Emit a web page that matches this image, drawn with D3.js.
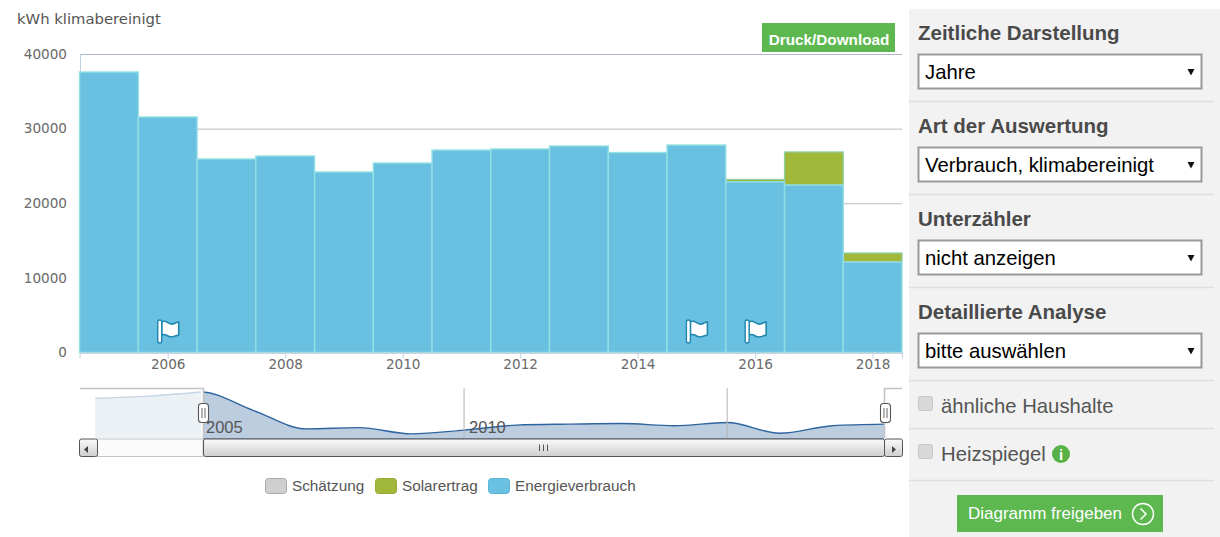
<!DOCTYPE html>
<html>
<head>
<meta charset="utf-8">
<script src="https://d3js.org/d3.v7.min.js"></script>
<style>
  body { margin: 0; background: #fff; overflow: hidden; }
  svg { display: block; }
  .sans { font-family: "Liberation Sans", Arial, sans-serif; }
  .axis text { font-family: "DejaVu Sans", sans-serif; font-size: 13.6px; fill: #6a6a6a; }
</style>
</head>
<body>
<svg id="chart" width="1220" height="537"></svg>
<script>
// values
var years = [2005, 2006, 2007, 2008, 2009, 2010, 2011, 2012, 2013, 2014, 2015, 2016, 2017, 2018];
var energy = [37590, 31560, 25930, 26330, 24190, 25390, 27130, 27270, 27670, 26800, 27800, 22850, 22440, 12130];
var solar = [0, 0, 0, 0, 0, 0, 0, 0, 0, 0, 0, 330, 4430, 1200];
var flagYears = [2006, 2015, 2016];
var yTicks = [0, 10000, 20000, 30000, 40000];
var xTicks = [2006, 2008, 2010, 2012, 2014, 2016, 2018];

var navYears = [2003, 2004, 2005, 2006, 2007, 2008, 2009, 2010, 2011, 2012, 2013, 2014, 2015, 2016, 2017, 2018];
var navValues = [35600, 36300, 37600, 31700, 25900, 26300, 24300, 25500, 27100, 27400, 27600, 26900, 27900, 24500, 26900, 27400];
var navLabels = [2005, 2010];
var navLines = [2010, 2015];

var legendNames = ["Schätzung", "Solarertrag", "Energieverbrauch"];
var legendColors = ["#cfcfcf", "#a2b83a", "#69c0e0"];
var legendBorders = ["#a8a8a8", "#96ab30", "#5cb6d8"];
var legendX = [265, 375, 488];

var panelTitles = ["Zeitliche Darstellung", "Art der Auswertung", "Unterzähler", "Detaillierte Analyse"];
var panelChoices = ["Jahre", "Verbrauch, klimabereinigt", "nicht anzeigen", "bitte auswählen"];
var panelChecks = ["ähnliche Haushalte", "Heizspiegel"];

var svg = d3.select("#chart");

var x = d3.scaleLinear().domain([2004.5, 2018.5]).range([79.6, 902]);
var y = d3.scaleLinear().domain([0, 40000]).range([352.5, 54]);

// gridlines
var grid = svg.append("g")
    .attr("transform", "translate(80,0)")
    .call(d3.axisLeft(y).tickValues(yTicks).tickSize(-822).tickFormat(""));
grid.select(".domain").remove();
grid.selectAll("line").attr("stroke", "#bdbdbd");
grid.selectAll(".tick:last-of-type line").attr("stroke", "#aeb8c6");

svg.append("line").attr("x1", 80.5).attr("x2", 80.5).attr("y1", 54).attr("y2", 352)
    .attr("stroke", "#c0d0e0");

// bars
var bars = svg.append("g");
bars.selectAll(".solar")
    .data(years)
    .enter()
    .filter(function(d, i) { return solar[i] > 0; })
    .append("rect")
    .attr("x", function(d) { return x(d - 0.5); })
    .attr("width", function(d) { return x(d + 0.5) - x(d - 0.5); })
    .attr("y", function(d) { var i = years.indexOf(d); return y(energy[i] + solar[i]); })
    .attr("height", function(d) { var i = years.indexOf(d); return y(energy[i]) - y(energy[i] + solar[i]); })
    .attr("fill", "#a2b83a")
    .attr("stroke", "#8fd0a0")
    .attr("stroke-width", 1.3);

bars.selectAll(".energy")
    .data(years)
    .enter()
    .append("rect")
    .attr("x", function(d) { return x(d - 0.5); })
    .attr("width", function(d) { return x(d + 0.5) - x(d - 0.5); })
    .attr("y", function(d, i) { return y(energy[i]); })
    .attr("height", function(d, i) { return y(0) - y(energy[i]); })
    .attr("fill", "#69c0e0")
    .attr("stroke", "#93e0e3")
    .attr("stroke-width", 1.4);

// flags
var flagPath = "M-7,-10 C-3,-13 0,-7 4,-8 C7,-9 8,-10 10,-10 L10,3 C7,4 5,5 2,5 C-1,5 -3,1 -7,3 Z";
var flags = svg.selectAll(".flag")
    .data(flagYears)
    .enter()
    .append("g")
    .attr("transform", function(d) { return "translate(" + (x(d) + 1) + ",332)"; });
flags.append("path").attr("d", flagPath)
    .attr("fill", "#fff").attr("stroke", "#1f86ad").attr("stroke-width", 1.6);
flags.append("rect").attr("x", -11).attr("y", -12).attr("width", 4).attr("height", 23).attr("rx", 2)
    .attr("fill", "#fff").attr("stroke", "#1f86ad").attr("stroke-width", 1.4);

// axes
var xAxis = svg.append("g")
    .attr("class", "axis")
    .attr("transform", "translate(0,352.5)")
    .call(d3.axisBottom(x).tickValues(xTicks).tickFormat(d3.format("d")).tickSize(6).tickPadding(1));
xAxis.select(".domain").attr("stroke", "#c0d0e0");
xAxis.selectAll("line").attr("stroke", "#c0d0e0");

var yAxis = svg.append("g")
    .attr("class", "axis")
    .attr("transform", "translate(80,0)")
    .call(d3.axisLeft(y).tickValues(yTicks).tickFormat(d3.format("d")).tickSize(0).tickPadding(13));
yAxis.select(".domain").remove();

svg.append("text").attr("x", 17).attr("y", 24)
    .style("font-family", "DejaVu Sans").style("font-size", "14.8px").attr("fill", "#555")
    .text("kWh klimabereinigt");

// download button
svg.append("rect").attr("x", 762).attr("y", 23).attr("width", 133).attr("height", 29).attr("fill", "#5cb84f");
svg.append("text").attr("class", "sans").attr("x", 829).attr("y", 45).attr("text-anchor", "middle")
    .style("font-size", "15.3px").style("font-weight", "bold").attr("fill", "#fff")
    .text("Druck/Download");

// navigator
var navX = d3.scaleLinear().domain([2005, 2018]).range([201, 885]);
var navY = d3.scaleLinear().domain([23000, 37600]).range([438, 392]);

var navArea = d3.area()
    .x(function(d, i) { return navX(navYears[i]); })
    .y0(438)
    .y1(function(d) { return navY(d); })
    .curve(d3.curveMonotoneX);
var navLine = d3.line()
    .x(function(d, i) { return navX(navYears[i]); })
    .y(function(d) { return navY(d); })
    .curve(d3.curveMonotoneX);

svg.append("path").datum(navValues).attr("d", navArea).attr("fill", "#bccde0");
svg.append("path").datum(navValues).attr("d", navLine).attr("fill", "none")
    .attr("stroke", "#2f659f").attr("stroke-width", 1.4);

svg.selectAll(".navline")
    .data(navLines)
    .enter()
    .append("line")
    .attr("x1", function(d) { return navX(d); })
    .attr("x2", function(d) { return navX(d); })
    .attr("y1", 388).attr("y2", 438)
    .attr("stroke", "#b4b4b4");

svg.selectAll(".navlabel")
    .data(navLabels)
    .enter()
    .append("text")
    .attr("class", "sans")
    .attr("x", function(d) { return navX(d) + 5; })
    .attr("y", 433)
    .style("font-size", "16.5px")
    .attr("fill", "#555")
    .text(function(d) { return d; });

// masked part left of the selection
svg.append("rect").attr("x", 96).attr("y", 389).attr("width", 107).attr("height", 49)
    .attr("fill", "#fff");
svg.append("path").datum(navValues.slice(0, 3)).attr("d", navArea)
    .attr("fill", "#ecf1f6");
svg.append("path").datum(navValues.slice(0, 3)).attr("d", navLine)
    .attr("fill", "none").attr("stroke", "#c5d5e6").attr("stroke-width", 1.4);

svg.append("path").attr("d", "M80,388.5H203.5V438").attr("fill", "none").attr("stroke", "#c4c4c4").attr("stroke-width", 1.6);
svg.append("path").attr("d", "M884.5,438V388.5H902").attr("fill", "none").attr("stroke", "#c4c4c4").attr("stroke-width", 1.6);
svg.append("line").attr("x1", 203).attr("x2", 884).attr("y1", 438.5).attr("y2", 438.5).attr("stroke", "#7f95b3");

// scrollbar
var defs = svg.append("defs");
var grad = defs.append("linearGradient").attr("id", "thumb").attr("x1", 0).attr("x2", 0).attr("y1", 0).attr("y2", 1);
grad.append("stop").attr("offset", 0).attr("stop-color", "#fafafa");
grad.append("stop").attr("offset", 1).attr("stop-color", "#cfcfcf");

svg.append("rect").attr("x", 97).attr("y", 439).attr("width", 106).attr("height", 17.5)
    .attr("fill", "#fbfbfb").attr("stroke", "#c4c4c4");
svg.append("rect").attr("x", 203.5).attr("y", 439).attr("width", 681).attr("height", 17.5).attr("rx", 2)
    .attr("fill", "url(#thumb)").attr("stroke", "#555");
[[79.5, "M88,446 L84,449.5 L88,453 Z"], [884.5, "M892,446 L896,449.5 L892,453 Z"]].forEach(function(b) {
  svg.append("rect").attr("x", b[0]).attr("y", 439).attr("width", 18).attr("height", 17.5).attr("rx", 2)
      .attr("fill", "url(#thumb)").attr("stroke", "#555");
  svg.append("path").attr("d", b[1]).attr("fill", "#444");
});
[539, 543, 547].forEach(function(px) {
  svg.append("line").attr("x1", px + 0.5).attr("x2", px + 0.5).attr("y1", 444.5).attr("y2", 451)
      .attr("stroke", "#555");
});

// navigator handles
[198, 880].forEach(function(px) {
  svg.append("rect").attr("x", px + 0.5).attr("y", 403.5).attr("width", 10).attr("height", 19).attr("rx", 3)
      .attr("fill", "#fff").attr("stroke", "#555").attr("stroke-width", 1.1);
  [3.5, 6.5].forEach(function(d) {
    svg.append("line").attr("x1", px + d + 0.5).attr("x2", px + d + 0.5).attr("y1", 408).attr("y2", 418)
        .attr("stroke", "#666");
  });
});

// legend
var legend = svg.selectAll(".legend")
    .data(legendNames)
    .enter()
    .append("g")
    .attr("transform", function(d, i) { return "translate(" + legendX[i] + ",478)"; });
legend.append("rect").attr("x", 0.5).attr("y", 0.5).attr("width", 21).attr("height", 15).attr("rx", 3)
    .attr("fill", function(d, i) { return legendColors[i]; })
    .attr("stroke", function(d, i) { return legendBorders[i]; });
legend.append("text").attr("class", "sans").attr("x", 27).attr("y", 13)
    .style("font-size", "15.3px").attr("fill", "#555")
    .text(function(d) { return d; });

// right panel
svg.append("rect").attr("x", 909).attr("y", 9).attr("width", 311).attr("height", 528).attr("fill", "#f2f2f2");
[101, 194, 287, 380, 428, 480].forEach(function(py) {
  svg.append("line").attr("x1", 909).attr("x2", 1214).attr("y1", py + 0.5).attr("y2", py + 0.5)
      .attr("stroke", "#dedede").attr("stroke-width", 1.4);
});

panelTitles.forEach(function(t, i) {
  var top = 9 + i * 93;
  svg.append("text").attr("class", "sans").attr("x", 918).attr("y", top + 31)
      .style("font-size", "20.5px").style("font-weight", "bold").attr("fill", "#4a4a4a")
      .text(t);
  svg.append("rect").attr("x", 918.5).attr("y", top + 45.5).attr("width", 283).attr("height", 34)
      .attr("fill", "#fff").attr("stroke", "#999").attr("stroke-width", 2);
  svg.append("text").attr("class", "sans").attr("x", 925).attr("y", top + 70)
      .style("font-size", "20.3px").attr("fill", "#000")
      .text(panelChoices[i]);
  svg.append("path").attr("d", "M1187.5," + (top + 60) + "h7l-3.5,6.5z").attr("fill", "#111");
});

panelChecks.forEach(function(t, i) {
  var py = 405 + i * 48;
  svg.append("rect").attr("x", 918.5).attr("y", py - 8.5).attr("width", 14).attr("height", 14).attr("rx", 2)
      .attr("fill", "#d8d8d8").attr("stroke", "#c8c8c8");
  svg.append("text").attr("class", "sans").attr("x", 941).attr("y", py + 8)
      .style("font-size", "20.3px").attr("fill", "#555")
      .text(t);
});

svg.append("circle").attr("cx", 1061).attr("cy", 454).attr("r", 9).attr("fill", "#58b146");
svg.append("text").attr("class", "sans").attr("x", 1061).attr("y", 460).attr("text-anchor", "middle")
    .style("font-size", "15px").style("font-weight", "bold").attr("fill", "#fff").text("i");

svg.append("rect").attr("x", 957).attr("y", 495).attr("width", 206).attr("height", 37).attr("fill", "#5cb84f");
svg.append("text").attr("class", "sans").attr("x", 968).attr("y", 519)
    .style("font-size", "17px").attr("fill", "#fff").text("Diagramm freigeben");
svg.append("circle").attr("cx", 1143).attr("cy", 514).attr("r", 10.5)
    .attr("fill", "none").attr("stroke", "#fff").attr("stroke-width", 1.5);
svg.append("path").attr("d", "M1140.5,508.5l5.5,5.5l-5.5,5.5")
    .attr("fill", "none").attr("stroke", "#fff").attr("stroke-width", 1.5);
</script>
</body>
</html>
